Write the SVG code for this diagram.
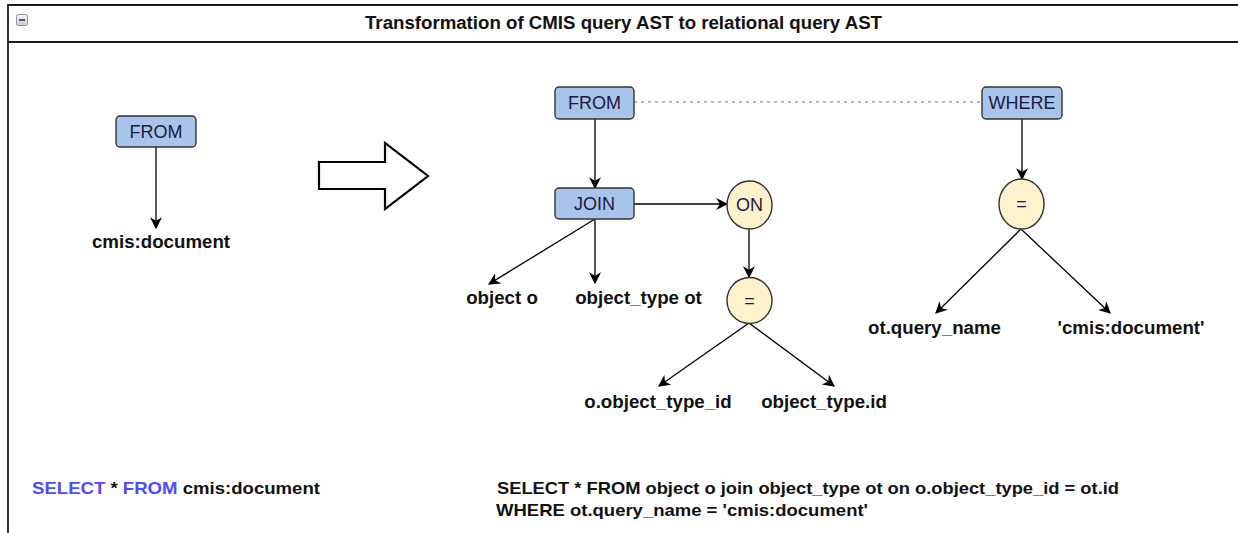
<svg xmlns="http://www.w3.org/2000/svg" width="1238" height="533" viewBox="0 0 1238 533">
  <defs>
    <marker id="arrow" viewBox="0 0 10 10" refX="9" refY="5" markerWidth="12" markerHeight="12" markerUnits="userSpaceOnUse" orient="auto">
      <path d="M0,0 L10,5 L0,10 L3,5 z" fill="#000"/>
    </marker>
    <linearGradient id="iconFill" x1="0" y1="0" x2="0" y2="1">
      <stop offset="0" stop-color="#f2f5f8"/>
      <stop offset="1" stop-color="#c3cdd9"/>
    </linearGradient>
  </defs>
  <style>
    .frame { stroke: #1e1e1e; stroke-width: 1.8; fill: none; }
    .box { fill: #a9c4eb; stroke: #333; stroke-width: 1.4; }
    .op { fill: #fff2cc; stroke: #333; stroke-width: 1.4; }
    .kw { font-family: "Liberation Sans", Arial, sans-serif; font-size: 18px; fill: #1a1a40; text-anchor: middle; dominant-baseline: central; }
    .leaf { font-family: "Liberation Sans", Arial, sans-serif; font-size: 18.7px; font-weight: bold; fill: #111; text-anchor: middle; dominant-baseline: central; }
    .title { font-family: "Liberation Sans", Arial, sans-serif; font-size: 18px; font-weight: bold; fill: #111; text-anchor: middle; dominant-baseline: central; }
    .sql { font-family: "Liberation Sans", Arial, sans-serif; font-size: 17px; font-weight: bold; fill: #111; }
    .sqlkw { fill: #4b4bff; }
    .edge { stroke: #000; stroke-width: 1.3; fill: none; marker-end: url(#arrow); }
    .dots { stroke: #777; stroke-width: 1.2; stroke-dasharray: 3 4; fill: none; }
  </style>

  <rect x="0" y="0" width="1238" height="533" fill="#fff"/>

  <!-- panel frame and header -->
  <g id="panel">
    <path class="frame" d="M8,533 L8,5 L1238,5"/>
    <line class="frame" x1="8" y1="42" x2="1238" y2="42"/>
    <rect x="16.5" y="14.5" width="11" height="11" rx="2" fill="url(#iconFill)" stroke="#8796a8" stroke-width="1"/>
    <line x1="19" y1="20" x2="25" y2="20" stroke="#333" stroke-width="1.6"/>
    <text class="title" x="623.5" y="23" textLength="517" lengthAdjust="spacingAndGlyphs">Transformation of CMIS query AST to relational query AST</text>
  </g>

  <!-- connectors -->
  <g id="connectors">
    <line class="edge" x1="156" y1="147" x2="156" y2="228"/>
    <line class="dots" x1="634" y1="102" x2="982" y2="102"/>
    <line class="edge" x1="595" y1="119" x2="595" y2="188"/>
    <line class="edge" x1="634" y1="204" x2="727" y2="204"/>
    <line class="edge" x1="595" y1="219" x2="489" y2="284"/>
    <line class="edge" x1="595" y1="219" x2="595" y2="283"/>
    <line class="edge" x1="749" y1="229" x2="749" y2="277"/>
    <line class="edge" x1="749" y1="323" x2="659" y2="386"/>
    <line class="edge" x1="749" y1="323" x2="834" y2="386"/>
    <line class="edge" x1="1022" y1="119" x2="1022" y2="179"/>
    <line class="edge" x1="1021" y1="229" x2="936" y2="313"/>
    <line class="edge" x1="1021" y1="229" x2="1110" y2="313"/>
  </g>

  <!-- CMIS query tree -->
  <g id="cmis-from">
    <rect class="box" x="116" y="116" width="80" height="31" rx="4"/>
    <text class="kw" x="156" y="131.5">FROM</text>
  </g>
  <g id="cmis-document">
    <text class="leaf" x="161" y="241">cmis:document</text>
  </g>

  <!-- transformation arrow -->
  <g id="transform-arrow">
    <path d="M319,162 L385,162 L385,143 L428,176 L385,209 L385,189 L319,189 Z" fill="#fff" stroke="#000" stroke-width="2.2" stroke-linejoin="miter"/>
  </g>

  <!-- relational query tree -->
  <g id="rel-from">
    <rect class="box" x="555" y="87" width="79" height="32" rx="4"/>
    <text class="kw" x="594.5" y="103">FROM</text>
  </g>
  <g id="rel-where">
    <rect class="box" x="982" y="87" width="80" height="32" rx="4"/>
    <text class="kw" x="1022" y="103">WHERE</text>
  </g>
  <g id="rel-join">
    <rect class="box" x="555" y="188" width="79" height="31" rx="4"/>
    <text class="kw" x="594.5" y="204">JOIN</text>
  </g>
  <g id="rel-on">
    <ellipse class="op" cx="749.5" cy="205" rx="22.5" ry="24"/>
    <text class="kw" x="749.5" y="205">ON</text>
  </g>
  <g id="rel-on-eq">
    <ellipse class="op" cx="749.5" cy="300.5" rx="22.5" ry="23"/>
    <text class="kw" x="749.5" y="300.5">=</text>
  </g>
  <g id="rel-where-eq">
    <ellipse class="op" cx="1021.5" cy="204" rx="22.5" ry="25"/>
    <text class="kw" x="1021.5" y="204">=</text>
  </g>
  <g id="leaf-object-o">
    <text class="leaf" x="502" y="297">object o</text>
  </g>
  <g id="leaf-object-type-ot">
    <text class="leaf" x="638.5" y="297">object_type ot</text>
  </g>
  <g id="leaf-o-object-type-id">
    <text class="leaf" x="658" y="401">o.object_type_id</text>
  </g>
  <g id="leaf-object-type-id">
    <text class="leaf" x="824" y="401">object_type.id</text>
  </g>
  <g id="leaf-ot-query-name">
    <text class="leaf" x="934.5" y="327">ot.query_name</text>
  </g>
  <g id="leaf-cmis-document-literal">
    <text class="leaf" x="1131" y="327">'cmis:document'</text>
  </g>

  <!-- query strings -->
  <g id="cmis-sql">
    <text class="sql" x="32" y="494" textLength="288" lengthAdjust="spacingAndGlyphs"><tspan class="sqlkw">SELECT</tspan> * <tspan class="sqlkw">FROM</tspan> cmis:document</text>
  </g>
  <g id="relational-sql">
    <text class="sql" x="497" y="494" textLength="622" lengthAdjust="spacingAndGlyphs">SELECT * FROM object o join object_type ot on o.object_type_id = ot.id</text>
    <text class="sql" x="496" y="516" textLength="372" lengthAdjust="spacingAndGlyphs">WHERE ot.query_name = 'cmis:document'</text>
  </g>
</svg>
